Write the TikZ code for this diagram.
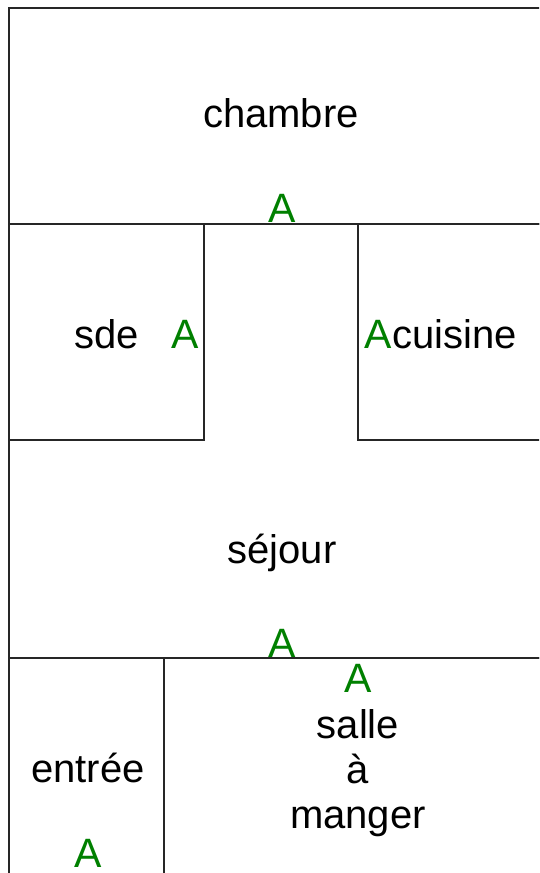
\documentclass[tikz,border=0pt]{standalone}
\usepackage{fontspec}
\setmainfont{Liberation Sans}
\usepackage{tikz}
\usetikzlibrary{positioning}
\definecolor{doorgreen}{RGB}{0,128,0}

\tikzset{
	wall/.style={draw=black!85, line width=1.2pt},
	roomname/.style={anchor=base, inner sep=0pt, font=\fontsize{40}{45}\selectfont},
	door/.style={anchor=base, inner sep=0pt, text=doorgreen, font=\fontsize{41}{45}\selectfont}
}

\begin{document}
\begin{tikzpicture}[x=1pt, y=-1pt]
			\useasboundingbox (0, 0) rectangle (539, 873);
			\clip (0, 0) rectangle (539, 873);
			
			% rooms
			\draw[wall] (9, 8) rectangle (560, 224);
			\draw[wall] (9, 224) rectangle (204, 440);
			\draw[wall] (358, 224) rectangle (560, 440);
			\draw[wall] (9, 224) rectangle (560, 658);
			\draw[wall] (9, 658) rectangle (164, 900);
			\draw[wall] (164, 658) rectangle (560, 900);
			
			% names
			\node[roomname] (chambre) at (281, 127) {chambre};
			\node[roomname] (sde) at (107, 348) {sde};
			\node[roomname] (cuisine) at (455, 348) {cuisine};
			\node[roomname] (sejour) at (282, 563) {séjour};
			\node[roomname] (entree) at (88, 782) {entrée};
			% base of the last line (manger)
			\node[roomname, align=center] (salle) at (358, 828) {salle\\à\\manger};
			
			% doors
			\node[door] (dchambre) at (282, 222) {A};
			\node[door] (dsde) at (185, 348) {A};
			\node[door] (dcuisine) at (378, 348) {A};
			\node[door] (dsejour) at (282, 657) {A};
			\node[door] (dsalle) at (358, 692) {A};
			\node[door] (dentree) at (88, 867) {A};
		\end{tikzpicture}
\end{document}
